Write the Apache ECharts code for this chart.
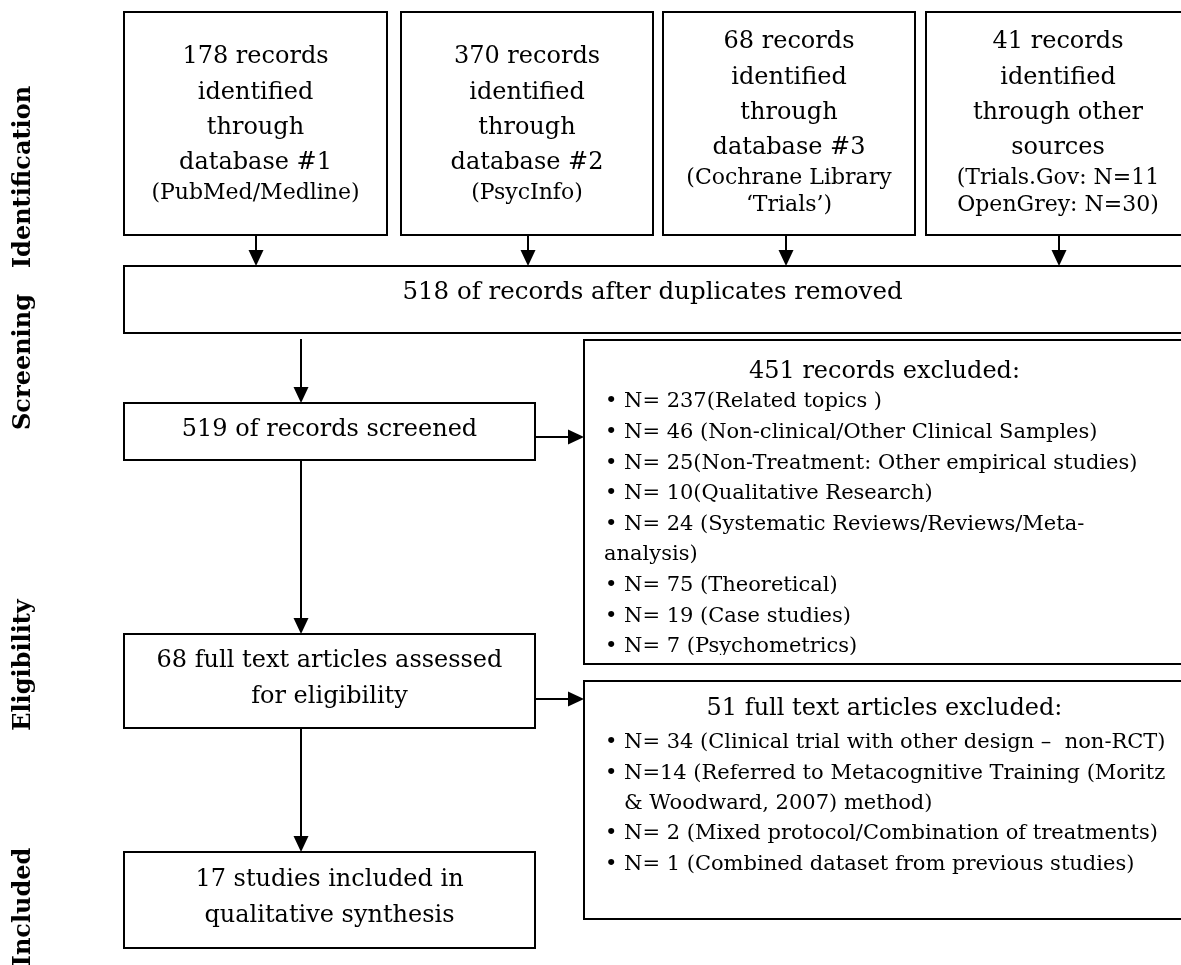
<!DOCTYPE html>
<html><head><meta charset="utf-8">
<script src="https://cdn.jsdelivr.net/npm/echarts@6/dist/echarts.min.js"></script>
<style>html,body{margin:0;padding:0;background:#fff}#c{width:1181px;height:965px}</style>
</head><body><div id="c"></div><script>
// ---------- data ----------
const stageLabels = ['Identification', 'Screening', 'Eligibility', 'Included'];
const sourceCounts = [178, 370, 68, 41];
const sourceLines = [
  ['identified', 'through', 'database #1'],
  ['identified', 'through', 'database #2'],
  ['identified', 'through', 'database #3'],
  ['identified', 'through other', 'sources']
];
const sourceNotes = [
  ['(PubMed/Medline)'],
  ['(PsycInfo)'],
  ['(Cochrane Library', '\u2018Trials\u2019)'],
  ['(Trials.Gov: N=11', 'OpenGrey: N=30)']
];
const flowSteps = [
  ['518 of records after duplicates removed'],
  ['519 of records screened'],
  ['68 full text articles assessed', 'for eligibility'],
  ['17 studies included in', 'qualitative synthesis']
];
const exclusionTitles = ['451 records excluded:', '51 full text articles excluded:'];
const screeningExclusions = [
  ['N= 237(Related topics )'],
  ['N= 46 (Non-clinical/Other Clinical Samples)'],
  ['N= 25(Non-Treatment: Other empirical studies)'],
  ['N= 10(Qualitative Research)'],
  ['N= 24 (Systematic Reviews/Reviews/Meta-', 'analysis)'],
  ['N= 75 (Theoretical)'],
  ['N= 19 (Case studies)'],
  ['N= 7 (Psychometrics)']
];
const eligibilityExclusions = [
  ['N= 34 (Clinical trial with other design \u2013  non-RCT)'],
  ['N=14 (Referred to Metacognitive Training (Moritz', '& Woodward, 2007) method)'],
  ['N= 2 (Mixed protocol/Combination of treatments)'],
  ['N= 1 (Combined dataset from previous studies)']
];

// ---------- layout (pixel space of the hidden axes) ----------
const W = 1181, H = 965;
const FONT = '"DejaVu Serif", serif';
const L = {
  srcTop: 12, srcBottom: 235,
  srcX: [[124, 387], [401, 653], [663, 915], [926, 1190]],
  srcFirst: [57, 57, 42, 42], bigLH: 35.3, noteGap: 30, noteLH: 27,
  big: 24, dupSize: 24.5, small: 22, list: 21, stage: 24,
  dup: [124, 266, 1190, 333], dupTextY: 293,
  left: [[124, 403, 535, 460], [124, 634, 535, 728], [124, 852, 535, 948]],
  leftLH: 36,
  excl: [[584, 340, 1190, 664], [584, 681, 1190, 919]],
  exclTitleY: [372, 709], exclFirst: [402, 743], exclLH: [30.6, 30.3],
  bulletX: 605, textX: 624, wrapX: [604, 624],
  clipY: 655,
  stageX: 24, stageY: [177, 362, 665, 907],
  arrows: [
    [256, 236, 256, 266], [528, 236, 528, 266], [786, 236, 786, 266], [1059, 236, 1059, 266],
    [301, 339, 301, 403], [301, 460, 301, 634], [301, 728, 301, 852],
    [535, 437, 584, 437], [535, 699, 584, 699]
  ]
};

// ---------- build marks ----------
const rects = [];
const texts = [];
L.srcX.forEach((xs, i) => {
  rects.push([xs[0], L.srcTop, xs[1], L.srcBottom]);
  const cx = (xs[0] + xs[1]) / 2;
  const big = [sourceCounts[i] + ' records'].concat(sourceLines[i]);
  let y = L.srcFirst[i];
  big.forEach((t, k) => { texts.push({v: [cx, y + k * L.bigLH], text: t, size: L.big, align: 'center'}); });
  const last = y + (big.length - 1) * L.bigLH;
  sourceNotes[i].forEach((t, k) => { texts.push({v: [cx, last + L.noteGap + k * L.noteLH], text: t, size: L.small, align: 'center'}); });
});
rects.push(L.dup);
texts.push({v: [(L.dup[0] + 1181) / 2, L.dupTextY], text: flowSteps[0][0], size: L.dupSize, align: 'center'});
L.left.forEach((b, i) => {
  rects.push(b);
  const lines = flowSteps[i + 1];
  const cy = (b[1] + b[3]) / 2 - 2;
  const cx = (b[0] + b[2]) / 2;
  lines.forEach((t, k) => {
    texts.push({v: [cx, cy + (k - (lines.length - 1) / 2) * L.leftLH], text: t, size: L.big, align: 'center'});
  });
});
[screeningExclusions, eligibilityExclusions].forEach((items, bi) => {
  const b = L.excl[bi];
  rects.push(b);
  texts.push({v: [(b[0] + 1181) / 2 + 2, L.exclTitleY[bi]], text: exclusionTitles[bi], size: L.big, align: 'center'});
  let row = 0;
  items.forEach(lines => {
    lines.forEach((t, k) => {
      const y = L.exclFirst[bi] + row * L.exclLH[bi];
      if (k === 0) {
        texts.push({v: [L.bulletX, y], text: '\u2022', size: L.list, align: 'left'});
        texts.push({v: [L.textX, y], text: t, size: L.list, align: 'left'});
      } else {
        texts.push({v: [L.wrapX[bi], y], text: t, size: L.list, align: 'left'});
      }
      row++;
    });
  });
});
stageLabels.forEach((t, i) => {
  texts.push({v: [L.stageX, L.stageY[i]], text: t, size: L.stage, align: 'center', bold: true, rot: Math.PI / 2});
});

// ---------- render ----------
function renderRect(params, api) {
  const p0 = api.coord([api.value(0), api.value(1)]);
  const p1 = api.coord([api.value(2), api.value(3)]);
  return {type: 'rect', shape: {x: p0[0], y: p0[1], width: p1[0] - p0[0], height: p1[1] - p0[1]},
    style: {fill: 'none', stroke: '#000', lineWidth: 2}};
}
function renderText(params, api) {
  const t = texts[params.dataIndex];
  const p = api.coord([api.value(0), api.value(1)]);
  return {type: 'text', x: p[0], y: p[1], rotation: t.rot || 0,
    style: {text: t.text, fontSize: t.size, fontFamily: FONT, fontWeight: t.bold ? 'bold' : 'normal',
      fill: '#000', textAlign: t.align, textVerticalAlign: 'middle', align: t.align, verticalAlign: 'middle'}};
}
function renderMask(params, api) {
  const p0 = api.coord([api.value(0), api.value(1)]);
  const p1 = api.coord([api.value(2), api.value(3)]);
  return {type: 'rect', shape: {x: p0[0], y: p0[1], width: p1[0] - p0[0], height: p1[1] - p0[1]},
    style: {fill: '#fff'}};
}
function renderArrow(params, api) {
  const a = api.coord([api.value(0), api.value(1)]);
  const b = api.coord([api.value(2), api.value(3)]);
  const dx = b[0] - a[0], dy = b[1] - a[1], len = Math.hypot(dx, dy), ux = dx / len, uy = dy / len;
  const hl = 16, hw = 7.5;
  const base = [b[0] - ux * hl, b[1] - uy * hl];
  return {type: 'group', children: [
    {type: 'line', shape: {x1: a[0], y1: a[1], x2: base[0] + ux * 2, y2: base[1] + uy * 2}, style: {stroke: '#000', lineWidth: 2}},
    {type: 'polygon', shape: {points: [b, [base[0] - uy * hw, base[1] + ux * hw], [base[0] + uy * hw, base[1] - ux * hw]]}, style: {fill: '#000'}}
  ]};
}

const chart = echarts.init(document.getElementById('c'), null, {renderer: 'canvas'});
const ex0 = L.excl[0];
chart.setOption({
  animation: false,
  backgroundColor: '#fff',
  grid: {left: 0, right: 0, top: 0, bottom: 0},
  xAxis: {type: 'value', min: 0, max: W, show: false},
  yAxis: {type: 'value', min: 0, max: H, inverse: true, show: false},
  series: [
    {type: 'custom', clip: false, renderItem: renderText, data: texts.map(t => t.v), z: 1, silent: true},
    {type: 'custom', clip: false, renderItem: renderMask, data: [[ex0[0] + 2, L.clipY, 1181, ex0[3] - 1]], z: 2, silent: true},
    {type: 'custom', clip: false, renderItem: renderRect, data: rects, z: 3, silent: true},
    {type: 'custom', clip: false, renderItem: renderArrow, data: L.arrows, z: 3, silent: true}
  ]
});
</script></body></html>
